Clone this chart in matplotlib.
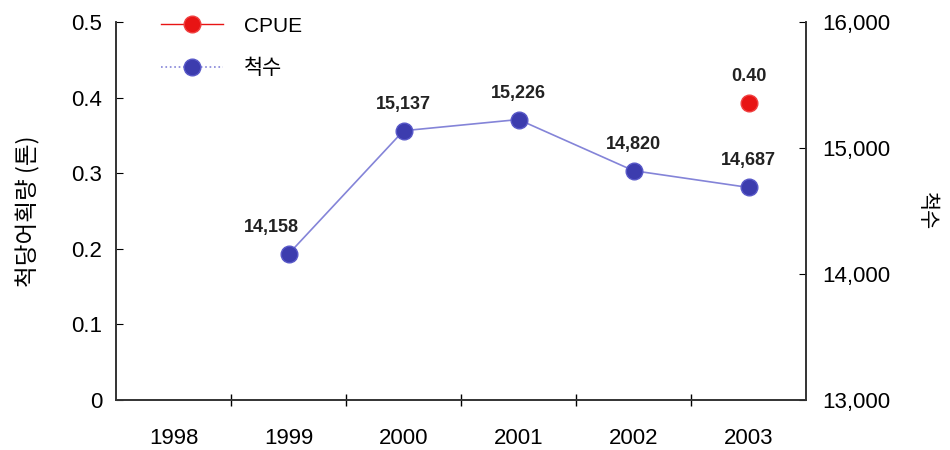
import matplotlib
matplotlib.use("Agg")
import matplotlib.pyplot as plt
from matplotlib.ticker import FuncFormatter, FixedLocator
from matplotlib.lines import Line2D

plt.rcParams['font.family'] = ['Liberation Sans', 'Noto Sans CJK KR', 'DejaVu Sans']

# Data
years = ["1998", "1999", "2000", "2001", "2002", "2003"]
cpue_years = ["2003"]
cpue = [0.393]
cpue_labels = ["0.40"]
vessel_years = ["1999", "2000", "2001", "2002", "2003"]
vessels = [14158, 15137, 15226, 14820, 14687]

red = "#e81414"
blue = "#3c3cae"
line_blue = "#8484d8"

fig = plt.figure(figsize=(9.5, 4.5), dpi=100)
ax = fig.add_axes([116 / 950, 50 / 450, 690 / 950, 378 / 450])
ax2 = ax.twinx()

xpos = {y: i for i, y in enumerate(years)}
cx = [xpos[y] for y in cpue_years]
vx = [xpos[y] for y in vessel_years]

ax2.plot(vx, vessels, color=line_blue, lw=1.2, marker="o", markersize=12,
         markerfacecolor=blue, markeredgecolor="#5858c8", markeredgewidth=1, zorder=3)
ax.plot(cx, cpue, color=red, lw=1, marker="o", markersize=12,
        markerfacecolor=red, markeredgecolor="#f04040", markeredgewidth=1, zorder=3)

# value labels
for x, v in zip(vx, vessels):
    dx = -17 if x == 1 else 0
    ax2.annotate(f"{v:,}", (x, v), xytext=(dx, 18), textcoords="offset pixels",
                 ha="center", va="bottom", fontsize=13, fontweight="bold", color="#222222")
for x, v, t in zip(cx, cpue, cpue_labels):
    ax.annotate(t, (x, v), xytext=(0, 18), textcoords="offset pixels",
                ha="center", va="bottom", fontsize=13, fontweight="bold", color="#222222")

ax.set_xlim(-0.5, len(years) - 0.5)
ax.set_ylim(0, 0.5)
ax2.set_ylim(13000, 16000)

ax.set_xticks(range(len(years)))
ax.set_xticklabels(years)
ax.xaxis.set_minor_locator(FixedLocator([i + 0.5 for i in range(len(years) - 1)]))
ax.tick_params(axis="x", which="major", length=0, pad=20, labelsize=16)
ax.tick_params(axis="x", which="minor", length=8, direction="inout", width=1)

ax.set_yticks([0, 0.1, 0.2, 0.3, 0.4, 0.5])
ax.yaxis.set_major_formatter(FuncFormatter(lambda v, p: "0" if v == 0 else f"{v:.1f}"))
ax.tick_params(axis="y", direction="in", length=5, labelsize=16, pad=10)

ax2.set_yticks([13000, 14000, 15000, 16000])
ax2.yaxis.set_major_formatter(FuncFormatter(lambda v, p: f"{int(v):,}"))
ax2.tick_params(axis="y", direction="in", length=5, labelsize=16, pad=12)

for a in (ax, ax2):
    a.spines["top"].set_visible(False)
    for s in ("left", "right", "bottom"):
        a.spines[s].set_color("#333333")
        a.spines[s].set_linewidth(1.2)

ax.set_ylabel("척당어획량 (톤)", fontsize=17, labelpad=22,
              family=['Noto Sans CJK KR', 'DejaVu Sans'])
ax2.set_ylabel("척수", fontsize=15, rotation=270, labelpad=34,
               family=['Noto Sans CJK KR', 'DejaVu Sans'])

handles = [
    Line2D([], [], color=red, lw=1, marker="o", markersize=12,
           markerfacecolor=red, markeredgecolor="#f04040"),
    Line2D([], [], color=line_blue, lw=1.2, ls=":", marker="o", markersize=12,
           markerfacecolor=blue, markeredgecolor="#5858c8"),
]
fig.legend(handles, ["CPUE", "척수"], loc="upper left", bbox_to_anchor=(142 / 950, 1.005),
           frameon=False, handlelength=3.0, handletextpad=1.0, labelspacing=1.1,
           prop={'family': ['Liberation Sans', 'Noto Sans CJK KR'], 'size': 15})

fig.savefig("out.png", dpi=100)
